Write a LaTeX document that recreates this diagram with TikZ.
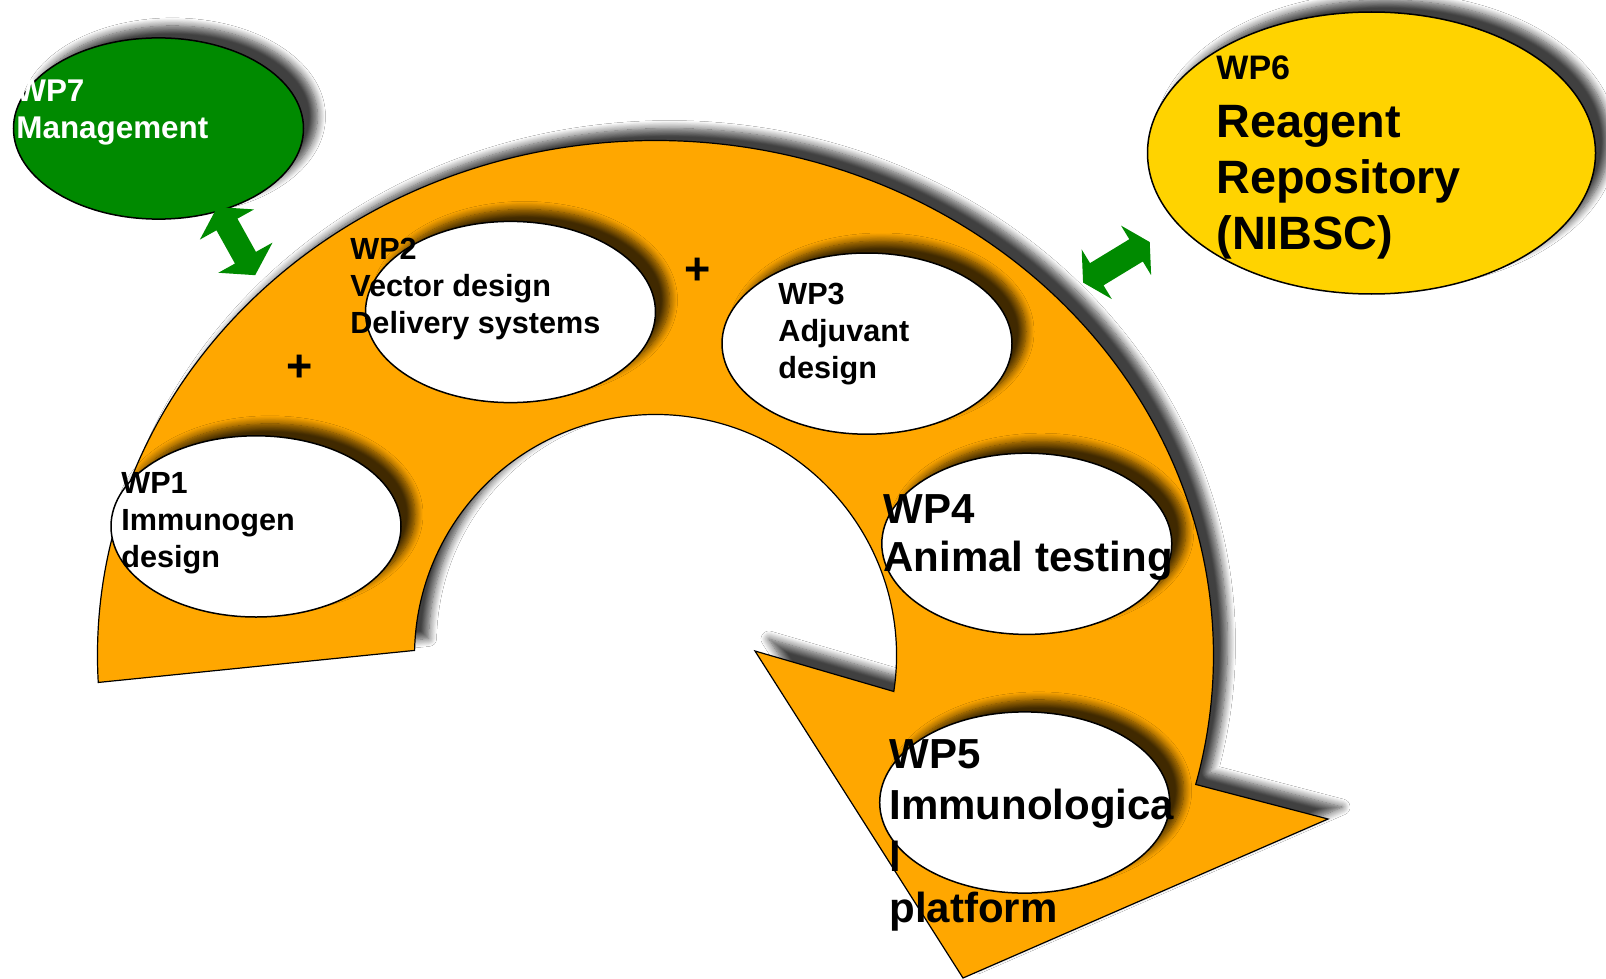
\documentclass[tikz,border=0pt]{standalone}
\usepackage{fontspec}
\setmainfont{Liberation Sans}
\usetikzlibrary{shapes.geometric, shadows.blur}

\definecolor{wporange}{RGB}{255,167,0}
\definecolor{wpgreen}{RGB}{0,138,0}
\definecolor{wpyellow}{RGB}{255,211,0}

% left-aligned stack of lines whose baseline is the first line
\newcommand\wplines[1]{\begin{tabular}[t]{@{}l@{}}#1\end{tabular}}

\tikzset{
  softshadow/.style={blur shadow={shadow xshift=7pt, shadow yshift=6pt,
      shadow blur radius=4pt, shadow opacity=75, shadow blur steps=10}},
  wpbubble/.style={ellipse, draw=black, line width=0.75pt, inner sep=0pt,
      minimum width=145pt, minimum height=90.6pt, softshadow},
  wplabel/.style={anchor=base west, inner sep=0pt,
      font=\bfseries\fontsize{15.3}{18.6}\selectfont},
  wpbig/.style={anchor=base west, inner sep=0pt,
      font=\bfseries\fontsize{21}{24.5}\selectfont},
  plussign/.style={inner sep=0pt, font=\bfseries\fontsize{22.5}{27}\selectfont},
  linkarrow/.style={fill=wpgreen, draw=none},
}

\begin{document}
\begin{tikzpicture}[x=0.5pt, y=-0.5pt]
\useasboundingbox (0,0) rectangle (1606,979);
\fill[white] (0,0) rectangle (1606,979);

% the curved work-flow arrow
\path[fill=wporange, draw=black, line width=0.6pt, softshadow]
  (98.26,682.45) arc[start angle=177, end angle=374.5, x radius=558, y radius=515]
  -- (1328,819) -- (963,978) -- (755,651) -- (893.8,691.5)
  arc[start angle=8.6, end angle=-178.8, radius=241]
  -- cycle;

% work packages
\node[wpbubble, fill=wpgreen] (wp7) at (158.5,128.5) {};
\node[wpbubble, fill=white] (wp2) at (510.5,312) {};
\node[wpbubble, fill=white] (wp3) at (867,343.6) {};
\node[wpbubble, fill=white] (wp1) at (256,526.4) {};
\node[wpbubble, fill=white] (wp4) at (1026.8,543.8) {};
\node[wpbubble, fill=white] (wp5) at (1024.7,802.5) {};
\node[wpbubble, fill=wpyellow, minimum width=224pt, minimum height=141pt] (wp6) at (1371.5,153) {};

% links to management and to the repository
\begin{scope}[shift={(236.2,241.1)}, rotate=-60.9]
  \fill[linkarrow] (-39,0) -- (-19,31) -- (-19,12) -- (19,12) -- (19,31) -- (39,0)
    -- (19,-31) -- (19,-12) -- (-19,-12) -- (-19,-31) -- cycle;
\end{scope}
\begin{scope}[shift={(1116.4,262.3)}, rotate=31.3]
  \fill[linkarrow] (-39,0) -- (-23,29) -- (-23,13) -- (23,13) -- (23,29) -- (39,0)
    -- (23,-29) -- (23,-13) -- (-23,-13) -- (-23,-29) -- cycle;
\end{scope}

% labels
\node[wplabel, text=white, font=\bfseries\fontsize{15.7}{18.3}\selectfont] (wp7text) at (16,101.7) {\wplines{WP7\\Management}};
\node[wplabel] (wp2text) at (350,259.3) {\wplines{WP2\\Vector design\\Delivery systems}};
\node[wplabel] (wp3text) at (778,304.5) {\wplines{WP3\\Adjuvant\\design}};
\node[wplabel] (wp1text) at (121,493.3) {\wplines{WP1\\Immunogen\\design}};
\node[wpbig, font=\bfseries\fontsize{21}{24.2}\selectfont] (wp4text) at (883,523.3) {\wplines{WP4\\Animal testing}};
\node[wpbig, font=\bfseries\fontsize{21}{25.7}\selectfont] (wp5text) at (889,768.3) {\wplines{WP5\\Immunologica\\l\\platform}};
\node[anchor=base west, inner sep=0pt, font=\bfseries\fontsize{17}{20}\selectfont] (wp6tag) at (1216,79.3) {WP6};
\node[anchor=base west, inner sep=0pt, font=\bfseries\fontsize{23.4}{28.1}\selectfont] (wp6text) at (1216,137.3) {\wplines{Reagent\\Repository\\(NIBSC)}};

\node[plussign] (plusA) at (299.3,368.5) {+};
\node[plussign] (plusB) at (697.7,271.5) {+};
\end{tikzpicture}
\end{document}
